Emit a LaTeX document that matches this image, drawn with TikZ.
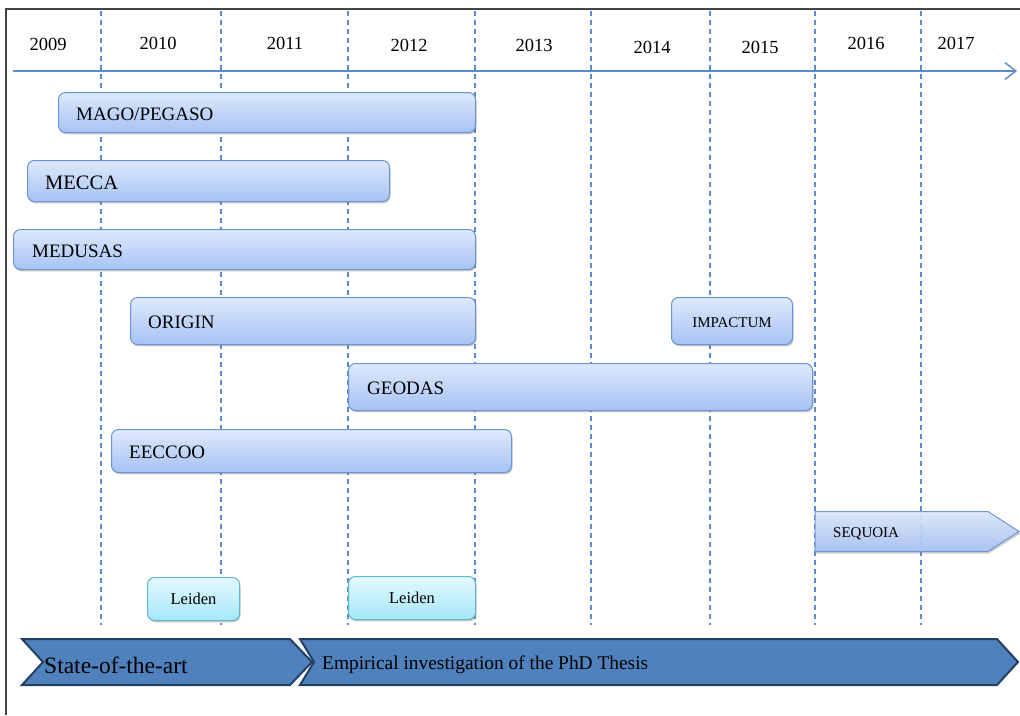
\documentclass[tikz,border=0pt]{standalone}
\usepackage{fontspec}
\setmainfont{Liberation Serif}
\usetikzlibrary{arrows.meta,shadows}
\definecolor{barTop}{HTML}{DEE9FC}
\definecolor{barBot}{HTML}{A6C2F4}
\definecolor{barDraw}{HTML}{6A94D4}
\definecolor{leidTop}{HTML}{E3F9FE}
\definecolor{leidBot}{HTML}{A6E7F9}
\definecolor{leidDraw}{HTML}{5FB8D2}
\definecolor{chevFill}{HTML}{4F81BD}
\definecolor{chevDraw}{HTML}{243F64}
\definecolor{gridCol}{HTML}{5B8BCB}
\definecolor{frameCol}{HTML}{444444}
\tikzset{
  bar/.style={draw=barDraw, line width=1pt, rounded corners=7pt, top color=barTop, bottom color=barBot,
    anchor=north west, inner sep=0pt,
    drop shadow={shadow xshift=1pt, shadow yshift=-1.8pt, opacity=0.35, fill=black!60}},
  leiden/.style={draw=leidDraw, line width=1pt, rounded corners=7pt, top color=leidTop, bottom color=leidBot,
    anchor=north west, inner sep=0pt,
    drop shadow={shadow xshift=1pt, shadow yshift=-1.8pt, opacity=0.35, fill=black!60}},
  bartext/.style={anchor=west, inner sep=0pt, font=\fontsize{19}{22}\selectfont},
  smalltext/.style={inner sep=0pt, font=\fontsize{15}{18}\selectfont},
  yeartext/.style={inner sep=0pt, font=\fontsize{18.5}{22}\selectfont},
  gridline/.style={draw=gridCol, line width=1.3pt, dash pattern=on 5pt off 4pt},
  axisline/.style={draw=gridCol, line width=1.4pt, -{Straight Barb[length=11pt,width=17pt,line width=1.4pt]}},
  chevron/.style={fill=chevFill, draw=chevDraw, line width=2pt, line join=miter},
  chevtext/.style={anchor=west, inner sep=0pt},
}
\begin{document}
\begin{tikzpicture}[x=1pt,y=-1pt]
\useasboundingbox (0,0) rectangle (1020,715);
\fill[white] (0,0) rectangle (1020,715);
% frame
\draw[frameCol, line width=1.6pt] (6,715) -- (6,9) -- (1020,9);
% grid lines
\foreach \gx in {101,221,348,475,591,710,815,921}
  \draw[gridline] (\gx,11) -- (\gx,625);
% axis
\coordinate (axs) at (13,71);
\coordinate (axe) at (1017,71);
\draw[axisline] (axs) -- (axe);
% years
\node[yeartext] (y2009) at (48,44) {2009};
\node[yeartext] (y2010) at (158,43) {2010};
\node[yeartext] (y2011) at (285,43) {2011};
\node[yeartext] (y2012) at (409,45) {2012};
\node[yeartext] (y2013) at (534,45) {2013};
\node[yeartext] (y2014) at (652,47) {2014};
\node[yeartext] (y2015) at (760,47) {2015};
\node[yeartext] (y2016) at (866,43) {2016};
\node[yeartext] (y2017) at (956,43) {2017};
% bars
\node[bar, minimum width=417pt, minimum height=40pt] (mago) at (58,92) {};
\node[bartext] (magot) at ([xshift=18pt,yshift=-2pt]mago.west) {MAGO/PEGASO};
\node[bar, minimum width=362pt, minimum height=41pt] (mecca) at (27,160) {};
\node[bartext, font=\fontsize{20.5}{24}\selectfont] (meccat) at ([xshift=18pt,yshift=-2pt]mecca.west) {MECCA};
\node[bar, minimum width=462pt, minimum height=40pt] (medusas) at (13,229) {};
\node[bartext] (medusast) at ([xshift=19pt,yshift=-2pt]medusas.west) {MEDUSAS};
\node[bar, minimum width=345pt, minimum height=47pt] (origin) at (130,297) {};
\node[bartext] (origint) at ([xshift=18pt,yshift=-1.5pt]origin.west) {ORIGIN};
\node[bar, minimum width=121pt, minimum height=47pt] (impactum) at (671,297) {};
\node[smalltext] (impactumt) at ([yshift=-1.5pt]impactum.center) {IMPACTUM};
\node[bar, minimum width=464pt, minimum height=47pt] (geodas) at (348,363) {};
\node[bartext] (geodast) at ([xshift=19pt,yshift=-1pt]geodas.west) {GEODAS};
\node[bar, minimum width=400pt, minimum height=43pt] (eeccoo) at (111,429) {};
\node[bartext] (eeccoot) at ([xshift=18pt,yshift=-1pt]eeccoo.west) {EECCOO};
% sequoia
\fill[black!60, opacity=0.3] (816,513.5) -- (989,513.5) -- (1021,533.5) -- (989,553.5) -- (816,553.5) -- cycle;
\draw[draw=barDraw, line width=1pt, top color=barTop, bottom color=barBot, fill opacity=0.92]
  (815,511.5) -- (988,511.5) -- (1019,531.5) -- (988,551.5) -- (815,551.5) -- cycle;
\node[smalltext, anchor=west] (sequoiat) at (833,533.5) {SEQUOIA};
% leiden
\node[leiden, minimum width=92pt, minimum height=43pt] (leid1) at (147,577) {};
\node[smalltext, font=\fontsize{16.5}{20}\selectfont] (leid1t) at (leid1.center) {Leiden};
\node[leiden, minimum width=127pt, minimum height=43pt] (leid2) at (348,576) {};
\node[smalltext, font=\fontsize{16.5}{20}\selectfont] (leid2t) at (leid2.center) {Leiden};
% chevrons
\draw[chevron] (22,639) -- (290,639) -- (312,662) -- (290,685) -- (22,685) -- (43,662) -- cycle;
\node[chevtext, font=\fontsize{23.5}{28}\selectfont] (sota) at (44,665) {State-of-the-art};
\draw[chevron] (300,639) -- (997,639) -- (1018,662) -- (997,685) -- (300,685) -- (314,662) -- cycle;
\node[chevtext, font=\fontsize{19.4}{23}\selectfont] (empir) at (322,664.5) {Empirical investigation of the PhD Thesis};
\end{tikzpicture}
\end{document}
